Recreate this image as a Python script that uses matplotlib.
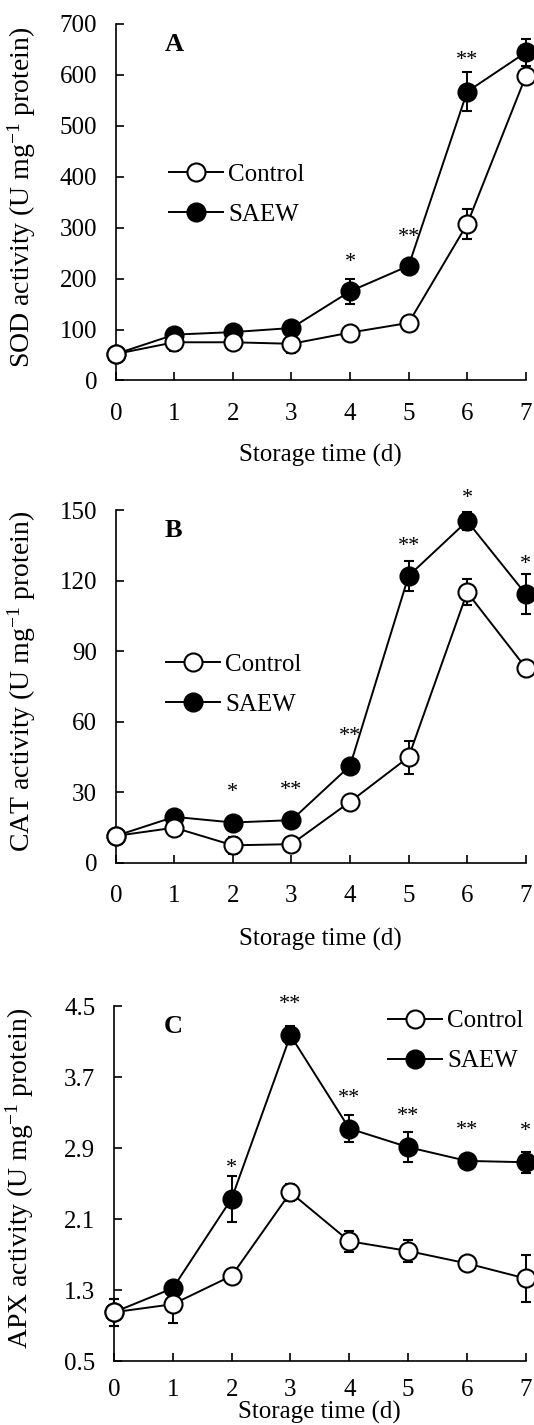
import matplotlib
matplotlib.use("Agg")
import matplotlib.pyplot as plt

plt.rcParams["font.family"] = ["Liberation Serif", "DejaVu Serif"]
plt.rcParams["mathtext.fontset"] = "custom"
plt.rcParams["mathtext.rm"] = "Liberation Serif"
plt.rcParams["mathtext.it"] = "Liberation Serif:italic"

days = [0, 1, 2, 3, 4, 5, 6, 7]

# A: SOD activity
sod_control = [52, 75, 75, 72, 94, 113, 307, 597]
sod_control_err = [5, 18, 6, 18, 6, 8, 30, 12]
sod_saew = [52, 90, 95, 103, 175, 225, 567, 644]
sod_saew_err = [5, 6, 12, 6, 25, 8, 38, 26]
sod_sig_days = [4, 5, 6]
sod_sig = ["*", "**", "**"]
sod_sig_y = [246, 295, 641]
sod_ticks = [0, 100, 200, 300, 400, 500, 600, 700]

# B: CAT activity
cat_control = [11.5, 15, 7.5, 8, 26, 45, 115, 83]
cat_control_err = [1, 2, 3.5, 1, 1.5, 7, 5.5, 3]
cat_saew = [11.5, 19.6, 17.2, 18.2, 41.3, 122, 145.3, 114.3]
cat_saew_err = [1, 1.5, 1, 1, 1.5, 6.5, 4, 8.5]
cat_sig_days = [2, 3, 4, 5, 6, 7]
cat_sig = ["*", "**", "**", "**", "*", "*"]
cat_sig_y = [32.7, 33.8, 56.7, 137.4, 158, 130]
cat_ticks = [0, 30, 60, 90, 120, 150]

# C: APX activity
apx_control = [1.05, 1.14, 1.46, 2.40, 1.85, 1.74, 1.60, 1.43]
apx_control_err = [0.15, 0.21, 0.03, 0.10, 0.12, 0.12, 0.07, 0.26]
apx_saew = [1.05, 1.32, 2.33, 4.17, 3.12, 2.91, 2.755, 2.74]
apx_saew_err = [0.15, 0.03, 0.26, 0.10, 0.15, 0.17, 0.07, 0.12]
apx_sig_days = [2, 3, 4, 5, 6, 7]
apx_sig = ["*", "**", "**", "**", "**", "*"]
apx_sig_y = [2.75, 4.6, 3.54, 3.33, 3.18, 3.16]
apx_ticks = [0.5, 1.3, 2.1, 2.9, 3.7, 4.5]


def draw_series(ax, y, err, face):
    cont = ax.errorbar(days, y, yerr=err, fmt="-o", color="black", lw=1.4,
                       ms=13, mfc=face, mec="black", mew=1.5,
                       elinewidth=1.4, capsize=3.8, capthick=1.4, zorder=3)
    # keep end points on the spine / figure edge fully drawn
    for art in [cont[0], *cont[1], *cont[2]]:
        art.set_clip_on(False)
    return cont[0]


def draw_panel(ax, letter, ylabel, control, control_err, saew, saew_err,
               sig_days, sig, sig_y, ticks, fmt, legend_xy, xpad, xlabelpad):
    h_saew = draw_series(ax, saew, saew_err, "black")
    h_ctrl = draw_series(ax, control, control_err, "white")

    for d, s, yv in zip(sig_days, sig, sig_y):
        ax.annotate(s, (d, yv), xytext=(0, -5), textcoords="offset points",
                    ha="center", va="center", fontsize=16,
                    annotation_clip=False)

    ax.set_xlim(0, 7)
    ax.set_ylim(ticks[0], ticks[-1])
    ax.set_xticks(days)
    ax.set_yticks(ticks)
    ax.set_yticklabels([fmt.format(t) for t in ticks])
    ax.spines["top"].set_visible(False)
    ax.spines["right"].set_visible(False)
    for sp in ("left", "bottom"):
        ax.spines[sp].set_linewidth(1.2)
    ax.tick_params(direction="in", length=6, width=1.2, labelsize=18)
    ax.tick_params(axis="x", pad=xpad)
    ax.tick_params(axis="y", pad=13.5)

    ax.set_xlabel("Storage time (d)", fontsize=18, labelpad=xlabelpad)
    ax.set_ylabel(ylabel, fontsize=20)
    ax.yaxis.set_label_coords(-0.19, 0.515)

    ax.text(0.12, 0.943, letter, transform=ax.transAxes, fontsize=19,
            fontweight="bold", ha="left", va="center")

    ax.legend([h_ctrl, h_saew], ["Control", "SAEW"], loc="center left",
              bbox_to_anchor=legend_xy, frameon=False, fontsize=18,
              handlelength=2.18, handletextpad=0.2, labelspacing=0.7,
              borderpad=0, borderaxespad=0, numpoints=1)


fig = plt.figure(figsize=(5.34, 14.25), dpi=100)
ax_a = fig.add_axes([0.2169, 0.7330, 0.7676, 0.2502])
ax_b = fig.add_axes([0.2169, 0.3944, 0.7676, 0.2477])
ax_c = fig.add_axes([0.2135, 0.0449, 0.7710, 0.2491])

draw_panel(ax_a, "A", "SOD activity (U mg$^{-1}$ protein)",
           sod_control, sod_control_err, sod_saew, sod_saew_err,
           sod_sig_days, sod_sig, sod_sig_y, sod_ticks, "{:.0f}",
           (0.129, 0.521), 16, 14)
draw_panel(ax_b, "B", "CAT activity (U mg$^{-1}$ protein)",
           cat_control, cat_control_err, cat_saew, cat_saew_err,
           cat_sig_days, cat_sig, cat_sig_y, cat_ticks, "{:.0f}",
           (0.122, 0.506), 16, 15)
draw_panel(ax_c, "C", "APX activity (U mg$^{-1}$ protein)",
           apx_control, apx_control_err, apx_saew, apx_saew_err,
           apx_sig_days, apx_sig, apx_sig_y, apx_ticks, "{:.1f}",
           (0.665, 0.901), 13, 0)

fig.savefig("out.png", dpi=100)
